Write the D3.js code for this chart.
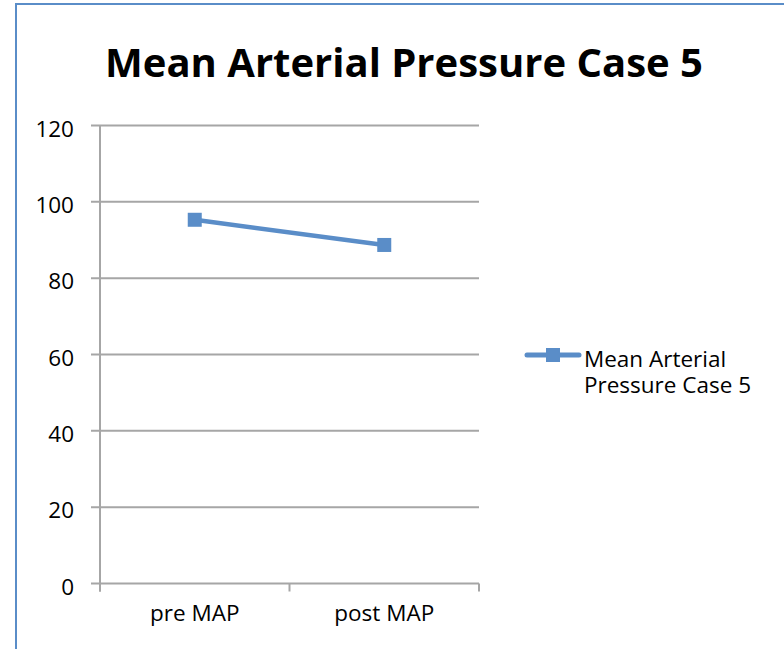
<!DOCTYPE html>
<html>
<head>
<meta charset="utf-8">
<script src="https://cdn.jsdelivr.net/npm/d3@7"></script>
<style>
  body { margin: 0; background: #fff; }
  svg { display: block; }
  text { font-family: "Open Sans", Lato, sans-serif; fill: #000; }
</style>
</head>
<body>
<div id="chart"></div>
<script>
// chart data
var categories = ["pre MAP", "post MAP"];
var mapValues = [95.3, 88.7];
var yTicks = [0, 20, 40, 60, 80, 100, 120];
var seriesName = ["Mean Arterial", "Pressure Case 5"];
var titleText = "Mean Arterial Pressure Case 5";

var width = 784, height = 649;
var blue = "#5a8dc8";
var labelSize = 22.5;

var svg = d3.select("#chart").append("svg")
    .attr("width", width)
    .attr("height", height);

// outer chart border (runs off the page on right and bottom)
svg.append("rect")
    .attr("x", 16).attr("y", 4)
    .attr("width", 820).attr("height", 700)
    .attr("fill", "none")
    .attr("stroke", blue)
    .attr("stroke-width", 2);

var plot = { left: 100, right: 479, top: 125.5, bottom: 583.5 };

var x = d3.scaleBand()
    .domain(categories)
    .range([plot.left, plot.right]);

var y = d3.scaleLinear()
    .domain([0, 120])
    .range([plot.bottom, plot.top]);

// title, fitted to the reference width
var title = svg.append("text")
    .attr("x", 404)
    .attr("y", 77)
    .attr("text-anchor", "middle")
    .attr("font-family", "Lato, 'Open Sans', sans-serif")
    .attr("font-weight", "bold")
    .attr("font-size", 44)
    .text(titleText);
var tw = title.node().getComputedTextLength();
title.attr("font-size", 44 * 598 / tw);

// gridlines
svg.append("g")
    .selectAll("line")
    .data(yTicks)
    .join("line")
    .attr("x1", plot.left - 9)
    .attr("x2", plot.right)
    .attr("y1", d => y(d))
    .attr("y2", d => y(d))
    .attr("stroke", "#a6a6a6")
    .attr("stroke-width", 2);

// y axis line
svg.append("line")
    .attr("x1", plot.left).attr("x2", plot.left)
    .attr("y1", plot.top).attr("y2", plot.bottom + 8)
    .attr("stroke", "#a6a6a6")
    .attr("stroke-width", 2);

// category tick marks at band edges
var edges = categories.map(c => x(c)).concat([plot.right]);
svg.append("g")
    .selectAll("line")
    .data(edges)
    .join("line")
    .attr("x1", d => d).attr("x2", d => d)
    .attr("y1", plot.bottom)
    .attr("y2", plot.bottom + 8)
    .attr("stroke", "#a6a6a6")
    .attr("stroke-width", 2);

// y labels
svg.append("g")
    .selectAll("text")
    .data(yTicks)
    .join("text")
    .attr("x", 74)
    .attr("y", d => y(d) + 11)
    .attr("text-anchor", "end")
    .attr("font-size", labelSize)
    .text(d => d);

// x labels
svg.append("g")
    .selectAll("text")
    .data(categories)
    .join("text")
    .attr("x", d => x(d) + x.bandwidth() / 2)
    .attr("y", 621)
    .attr("text-anchor", "middle")
    .attr("font-size", labelSize)
    .text(d => d);

// series line
var line = d3.line()
    .x((d, i) => x(categories[i]) + x.bandwidth() / 2)
    .y(d => y(d));

svg.append("path")
    .datum(mapValues)
    .attr("d", line)
    .attr("fill", "none")
    .attr("stroke", blue)
    .attr("stroke-width", 4.5)
    .attr("stroke-linecap", "round");

var ms = 14;
svg.append("g")
    .selectAll("rect")
    .data(mapValues)
    .join("rect")
    .attr("x", (d, i) => x(categories[i]) + x.bandwidth() / 2 - ms / 2)
    .attr("y", d => y(d) - ms / 2)
    .attr("width", ms)
    .attr("height", ms)
    .attr("fill", blue);

// legend
var lg = svg.append("g");
lg.append("line")
    .attr("x1", 527).attr("x2", 579)
    .attr("y1", 355).attr("y2", 355)
    .attr("stroke", blue)
    .attr("stroke-width", 5)
    .attr("stroke-linecap", "round");
lg.append("rect")
    .attr("x", 553 - ms / 2).attr("y", 355 - ms / 2)
    .attr("width", ms).attr("height", ms)
    .attr("fill", blue);
lg.selectAll("text.leg")
    .data(seriesName)
    .join("text")
    .attr("class", "leg")
    .attr("x", 584)
    .attr("y", (d, i) => 366.5 + i * 26.5)
    .attr("font-size", labelSize)
    .text(d => d);
</script>
</body>
</html>
